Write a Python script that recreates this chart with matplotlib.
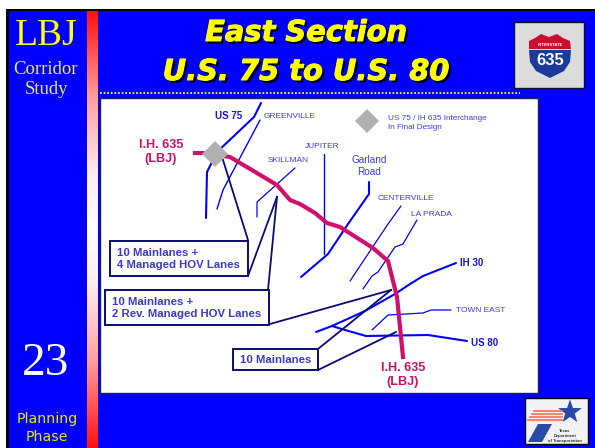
import numpy as np
import matplotlib
matplotlib.use('Agg')
import matplotlib.pyplot as plt
from matplotlib.patches import Polygon, Rectangle
from matplotlib.colors import LinearSegmentedColormap
import matplotlib.patheffects as pe

# everything in pixels (x, y from top left)
lbj_road = [(195, 153), (203, 153), (230, 157), (277, 185), (290, 200), (300, 204), (315, 213),
            (327, 223), (340, 227), (373, 248), (388, 261), (397, 297), (403, 357)]
us75 = [(261, 103), (254, 117), (217, 152), (207, 172), (206, 218)]
ih30 = [(456, 263), (423, 276), (410, 284), (395, 294), (365, 311), (332, 326), (316, 332)]
us80 = [(467, 341), (428, 335), (366, 336), (345, 330), (332, 326)]
garland = [(369, 182), (369, 194), (348, 224), (328, 254), (301, 277)]
jupiter = [(324, 154), (324, 254)]
greenville = [(260, 120), (223, 190), (217, 209)]
skillman = [(295, 168), (257, 202), (257, 217)]
centerville = [(401, 206), (388, 224), (350, 281)]
la_prada = [(417, 220), (403, 244), (395, 247), (378, 272), (372, 276), (363, 289)]
town_east = [(451, 310), (431, 310), (423, 313), (388, 315), (372, 330)]

leaders = [[(223, 160), (248, 240)], [(277, 197), (248, 276)], [(277, 197), (268, 290)],
           [(391, 290), (270, 324)], [(391, 290), (318, 349)], [(396, 332), (318, 370)]]
boxes = [(110, 241, 138, 35), (105, 290, 164, 35), (233, 349, 85, 21)]
box_labels = ['10 Mainlanes +\n4 Managed HOV Lanes', '10 Mainlanes +\n2 Rev. Managed HOV Lanes', '10 Mainlanes']
box_label_pos = [(117, 258.5), (112, 308), (240, 360)]

BLUE = '#0000ff'
NAVY = '#0a0a78'
YEL = '#ffff00'
PINK = '#d0106a'
LBLUE = '#3c3cf0'

fig = plt.figure(figsize=(5.95, 4.48), dpi=100)
ax = fig.add_axes([0, 0, 1, 1])
ax.set_xlim(0, 595)
ax.set_ylim(448, 0)
ax.axis('off')

ax.add_patch(Rectangle((6, 9), 589, 439, fc='black', ec='none', zorder=0))
ax.add_patch(Rectangle((9, 11), 586, 437, fc=BLUE, ec='none', zorder=1))

# red/white bar down the slide
cmap = LinearSegmentedColormap.from_list('bar', [(0, '#ff1010'), (0.2, '#ffa0a0'), (0.38, '#fff0f0'), (0.5, '#ffffff'),
                                                 (0.62, '#fff0f0'), (0.8, '#ffa0a0'), (1, '#ff1010')])
ax.imshow(np.linspace(0, 1, 256).reshape(-1, 1), cmap=cmap, extent=(87, 98, 448, 11),
          aspect='auto', zorder=2)
ax.set_xlim(0, 595)
ax.set_ylim(448, 0)

# left column
ax.text(46, 36, 'LBJ', color=YEL, family='Liberation Serif', fontsize=27, ha='center', va='center', zorder=3)
ax.text(46, 70, 'Corridor', color='#e8e84a', family='Liberation Serif', fontsize=13.5, ha='center', va='center', zorder=3)
ax.text(46, 89, 'Study', color='#e8e84a', family='Liberation Serif', fontsize=13.5, ha='center', va='center', zorder=3)
ax.text(46, 364, '23', color='white', family='Liberation Serif', fontsize=34, ha='center', va='center', zorder=3)
ax.text(47, 419, 'Planning', color='#e8e800', family='DejaVu Sans', fontsize=10.2, ha='center', va='center', zorder=3)
ax.text(47, 437, 'Phase', color='#e8e800', family='DejaVu Sans', fontsize=10.2, ha='center', va='center', zorder=3)

# title with drop shadow
shadow = [pe.SimplePatchShadow(offset=(1.8, -1.8), shadow_rgbFace='black', alpha=1),
          pe.Stroke(linewidth=0.7, foreground=YEL), pe.Normal()]
for s, y in [('East Section', 33), ('U.S. 75 to U.S. 80', 72)]:
    ax.text(306, y, s, color=YEL, family='DejaVu Sans', weight='bold', style='italic', fontsize=20.8,
            ha='center', va='center', zorder=4, path_effects=shadow)
ax.plot([100, 520], [93, 93], color=YEL, lw=1.3, ls=(0, (1, 1)), zorder=3)

# map panel
ax.add_patch(Rectangle((100, 98), 438, 295, fc='white', ec='#202050', lw=1, zorder=3))

for line, lw, c in [(us75, 1.5, BLUE), (ih30, 1.5, BLUE), (us80, 1.5, BLUE), (garland, 1.5, BLUE),
                    (jupiter, 1.0, BLUE), (greenville, 1.0, BLUE), (skillman, 0.9, BLUE),
                    (centerville, 0.9, BLUE), (la_prada, 0.9, BLUE), (town_east, 0.9, BLUE)]:
    xs, ys = zip(*line)
    ax.plot(xs, ys, color=c, lw=lw, zorder=5, solid_capstyle='round')
xs, ys = zip(*lbj_road)
ax.plot(xs, ys, color=PINK, lw=3, zorder=6, solid_joinstyle='round')

for cx, cy, r in [(215, 154, 13), (367, 121, 12)]:
    ax.add_patch(Polygon([(cx - r, cy), (cx, cy - r), (cx + r, cy), (cx, cy + r)], fc='#b0b0b0', ec='none', zorder=7))

for seg in leaders:
    xs, ys = zip(*seg)
    ax.plot(xs, ys, color=NAVY, lw=1.3, zorder=8)
for (x, y, w, h), s, (tx, ty) in zip(boxes, box_labels, box_label_pos):
    ax.add_patch(Rectangle((x, y), w, h, fc='white', ec=NAVY, lw=1.4, zorder=9))
    ax.text(tx, ty, s, color='#3a3ac8', family='Liberation Sans', weight='bold', fontsize=8.2,
            ha='left', va='center', linespacing=1.25, zorder=10)


def label(x, y, s, size, color=LBLUE, weight='normal', ha='center', spacing=1.15):
    ax.text(x, y, s, color=color, family='Liberation Sans', weight=weight, fontsize=size, ha=ha, va='center',
            linespacing=spacing, zorder=10)


label(228.5, 116, 'US 75', 7, color='#1515d8', weight='bold')
label(289.5, 116, 'GREENVILLE', 6)
label(288.5, 161, 'SKILLMAN', 6)
label(322, 147, 'JUPITER', 6)
label(369, 166, 'Garland\nRoad', 7.2)
label(406, 198, 'CENTERVILLE', 6)
label(431.5, 214, 'LA PRADA', 6)
label(472, 263, 'IH 30', 7, color='#1515d8', weight='bold')
label(480.5, 310, 'TOWN EAST', 6)
label(485, 343, 'US 80', 7, color='#1515d8', weight='bold')
label(388, 123, 'US 75 / IH 635 Interchange\nIn Final Design', 5.9, ha='left', spacing=1.4)
label(161, 152, 'I.H. 635\n(LBJ)', 9.1, color=PINK, weight='bold', spacing=1.25)
label(403, 375, 'I.H. 635\n(LBJ)', 9.1, color=PINK, weight='bold', spacing=1.25)

# interstate sign, top right
ax.add_patch(Rectangle((514, 22), 70, 66, fc='#dcdcdc', ec='#101030', lw=1, zorder=3))
ax.add_patch(Polygon([(529, 41), (535, 38), (541, 34), (549, 37), (557, 34), (563, 38), (570, 41), (571, 49), (529, 49)],
                     fc='#c8102e', ec='none', zorder=4))
ax.add_patch(Polygon([(529, 50), (571, 50), (570, 62), (564, 71), (550, 78), (536, 71), (530, 62)],
                     fc='#1a3a9c', ec='none', zorder=4))
ax.text(550, 44.5, 'INTERSTATE', color='white', family='Liberation Sans', weight='bold', fontsize=3, ha='center', va='center', zorder=5)
ax.text(550, 60.5, '635', color='white', family='Liberation Sans', weight='bold', fontsize=12, ha='center', va='center', zorder=5)

# txdot logo, bottom right
ax.add_patch(Rectangle((525, 398), 63, 46, fc='#f2f2f2', ec='black', lw=1, zorder=3))
star_r = np.array([12.5, 5, 12.5, 5, 12.5, 5, 12.5, 5, 12.5, 5])
star_a = np.deg2rad(-90 + 36 * np.arange(10))
ax.add_patch(Polygon(np.c_[570 + star_r * np.cos(star_a), 412 + star_r * np.sin(star_a)], fc='#2a4aa8', ec='none', zorder=4))
for y, x0 in [(411, 534), (414, 532), (417, 530), (420, 528)]:
    ax.plot([x0, 562], [y, y], color='#f07060', lw=1.2, zorder=4)
ax.add_patch(Polygon([(538, 424), (552, 424), (542, 442), (528, 442)], fc='#2a4aa8', ec='none', zorder=4))
ax.text(565, 436, 'Texas\nDepartment\nof Transportation', color='#303030', family='Liberation Sans', weight='bold',
        fontsize=3, ha='center', va='center', zorder=5)

fig.savefig('out.png', dpi=100)
